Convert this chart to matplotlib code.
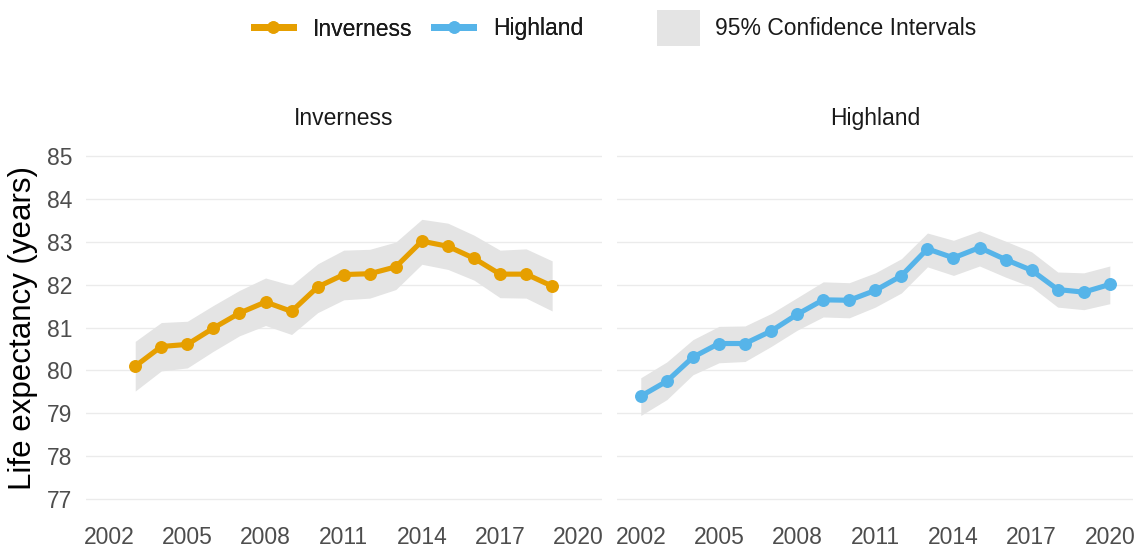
import matplotlib.pyplot as plt
from matplotlib.lines import Line2D
from matplotlib.patches import Patch

plt.rcParams["font.family"] = ["Liberation Sans", "DejaVu Sans"]

# Inverness life expectancy with 95% CI
inv_years = [2003, 2004, 2005, 2006, 2007, 2008, 2009, 2010, 2011,
             2012, 2013, 2014, 2015, 2016, 2017, 2018, 2019]
inv_le = [80.10, 80.56, 80.61, 80.99, 81.34, 81.60, 81.38, 81.95, 82.24,
          82.26, 82.42, 83.02, 82.90, 82.62, 82.25, 82.25, 81.97]
inv_lo = [79.52, 79.99, 80.06, 80.45, 80.81, 81.05, 80.84, 81.35, 81.65,
          81.69, 81.89, 82.48, 82.36, 82.11, 81.70, 81.69, 81.39]
inv_hi = [80.68, 81.12, 81.15, 81.52, 81.87, 82.16, 81.99, 82.49, 82.81,
          82.83, 83.00, 83.53, 83.44, 83.16, 82.81, 82.84, 82.56]

# Highland life expectancy with 95% CI
hig_years = [2002, 2003, 2004, 2005, 2006, 2007, 2008, 2009, 2010, 2011,
             2012, 2013, 2014, 2015, 2016, 2017, 2018, 2019, 2020]
hig_le = [79.40, 79.75, 80.31, 80.63, 80.63, 80.92, 81.31, 81.65, 81.64, 81.87,
          82.21, 82.84, 82.63, 82.87, 82.59, 82.34, 81.89, 81.83, 82.01]
hig_lo = [78.95, 79.32, 79.90, 80.18, 80.21, 80.56, 80.94, 81.25, 81.23, 81.48,
          81.81, 82.42, 82.22, 82.44, 82.18, 81.95, 81.48, 81.42, 81.56]
hig_hi = [79.83, 80.20, 80.72, 81.03, 81.04, 81.33, 81.70, 82.07, 82.05, 82.28,
          82.61, 83.21, 83.04, 83.26, 83.02, 82.77, 82.30, 82.28, 82.44]

x_ticks = [2002, 2005, 2008, 2011, 2014, 2017, 2020]
y_ticks = [77, 78, 79, 80, 81, 82, 83, 84, 85]

ORANGE = "#E69F00"
BLUE = "#56B4E9"
CI_GREY = "#e4e4e4"
FS = 16.5

fig = plt.figure(figsize=(11.43, 5.55), dpi=100)
ax_l = fig.add_axes([0.0750, 0.0701, 0.4514, 0.679])
ax_r = fig.add_axes([0.5401, 0.0701, 0.4514, 0.679])

panels = [
    (ax_l, "Inverness", inv_years, inv_le, inv_lo, inv_hi, ORANGE),
    (ax_r, "Highland", hig_years, hig_le, hig_lo, hig_hi, BLUE),
]

for ax, name, yrs, le, lo, hi, col in panels:
    ax.fill_between(yrs, lo, hi, color=CI_GREY, lw=0, zorder=2)
    ax.plot(yrs, le, color=col, lw=3.7, marker="o", markersize=8.3,
            solid_capstyle="round", zorder=3)
    ax.set_xlim(2001.1, 2020.9)
    ax.set_ylim(76.6, 85.4)
    ax.set_xticks(x_ticks)
    ax.set_yticks(y_ticks)
    ax.grid(axis="y", color="#ebebeb", lw=1.0, zorder=1)
    ax.set_axisbelow(True)
    for s in ax.spines.values():
        s.set_visible(False)
    ax.tick_params(axis="both", length=0, labelsize=FS, labelcolor="#4d4d4d")
    ax.tick_params(axis="x", pad=7.2)
    ax.tick_params(axis="y", pad=9.5)
    ax.text(0.5, 1.0377, name, transform=ax.transAxes, ha="center",
            va="baseline", fontsize=FS, color="#1a1a1a")

ax_r.tick_params(axis="y", labelleft=False)

fig.text(23 / 1143, 1 - 327.6 / 555, "Life expectancy (years)", rotation=90,
         ha="center", va="center", fontsize=22.5, color="black")

line_handles = [
    Line2D([], [], color=ORANGE, lw=5, marker="o", markersize=8),
    Line2D([], [], color=BLUE, lw=5, marker="o", markersize=8),
]
leg1 = fig.legend(line_handles, ["Inverness", "Highland"], loc="center left",
                  bbox_to_anchor=(254 / 1143, 1 - 29 / 555), ncol=2,
                  frameon=False, fontsize=FS, handlelength=1.7,
                  handletextpad=0.87, columnspacing=0.95, borderpad=0,
                  borderaxespad=0, numpoints=1, labelcolor="#1a1a1a")
fig.add_artist(leg1)
fig.legend([Patch(facecolor=CI_GREY, edgecolor="none")],
           ["95% Confidence Intervals"], loc="center left",
           bbox_to_anchor=(657 / 1143, 1 - 28 / 555), frameon=False,
           fontsize=FS, handlelength=1.87, handleheight=2.1,
           handletextpad=0.65, borderpad=0, borderaxespad=0,
           labelcolor="#1a1a1a")

fig.savefig("out.png", dpi=100)
